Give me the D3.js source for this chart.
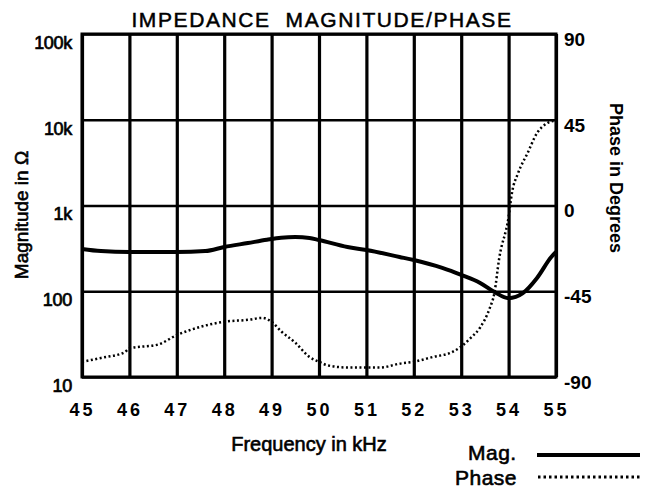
<!DOCTYPE html>
<html>
<head>
<meta charset="utf-8">
<script src="https://cdn.jsdelivr.net/npm/d3@7"></script>
<style>
  body { margin: 0; background: #fff; }
  text { font-family: "Liberation Sans", Arial, sans-serif; fill: #000; }
</style>
</head>
<body>
<div id="chart"></div>
<script>
// frequency sweep, kHz
var freqTicks = [45, 46, 47, 48, 49, 50, 51, 52, 53, 54, 55];
var magTicks = [10, 100, 1000, 10000, 100000];
var magLabels = ["10", "100", "1k", "10k", "100k"];
var phaseTicks = [-90, -45, 0, 45, 90];

// magnitude curve (ohm)
var magFreq = [45.0, 45.4, 46.0, 47.0, 47.6, 48.0, 48.5, 48.9, 49.2, 49.5, 49.8, 50.0, 50.6, 51.0, 51.7, 52.0, 52.6, 53.0, 53.4, 53.7, 54.0, 54.3, 54.6, 54.9, 55.0];
var magVals = [311, 294, 287, 287, 294, 328, 365, 398, 420, 428, 418, 396, 328, 303, 251, 231, 187, 155, 125, 98, 83, 95, 143, 251, 287];

// phase curve (degrees)
var phaseFreq = [45.0, 45.4, 45.9, 46.0, 46.6, 47.0, 47.6, 48.0, 48.5, 48.8, 49.0, 49.2, 49.5, 49.8, 50.0, 50.2, 50.6, 51.0, 51.3, 51.7, 52.0, 52.4, 52.8, 53.0, 53.2, 53.4, 53.6, 53.7, 53.8, 54.0, 54.07, 54.2, 54.4, 54.6, 54.8, 54.95, 55.0];
var phaseVals = [-82, -80, -77, -75, -73, -68, -63, -61, -60, -59, -61, -66, -72, -79.5, -82, -84, -85, -85, -85, -83, -82, -79.5, -77, -74, -69.5, -64, -54, -46, -28, -6, 6.5, 17, 27.5, 38, 43, 44.3, 44.3];

var margin = {top: 34, right: 98, bottom: 113, left: 82},
    width = 654 - margin.left - margin.right,
    height = 490 - margin.top - margin.bottom;

var svg = d3.select("#chart").append("svg")
    .attr("width", 654)
    .attr("height", 490);

var g = svg.append("g")
    .attr("transform", "translate(" + margin.left + "," + margin.top + ")");

var x = d3.scaleLinear().domain([45, 55]).range([0, width]);
var yMag = d3.scaleLog().domain([10, 100000]).range([height, 0]);
var yPhase = d3.scaleLinear().domain([-90, 90]).range([height, 0]);

// grid lines
g.append("g")
    .attr("class", "grid")
    .attr("transform", "translate(0," + height + ")")
    .call(d3.axisBottom(x).tickValues(freqTicks).tickSize(-height).tickFormat(""))
    .call(function(s) { s.select(".domain").remove(); })
    .selectAll("line")
    .attr("stroke", "#000")
    .attr("stroke-width", 3.2);

g.append("g")
    .attr("class", "grid")
    .call(d3.axisLeft(yMag).tickValues(magTicks).tickSize(-width).tickFormat(""))
    .call(function(s) { s.select(".domain").remove(); })
    .selectAll("line")
    .attr("stroke", "#000")
    .attr("stroke-width", 2.6);

g.append("rect")
    .attr("width", width)
    .attr("height", height)
    .attr("fill", "none")
    .attr("stroke", "#000")
    .attr("stroke-width", 3);

// tick labels
var leftAxis = g.append("g")
    .call(d3.axisLeft(yMag).tickValues(magTicks).tickSize(0).tickPadding(10)
      .tickFormat(function(d, i) { return magLabels[i]; }));
leftAxis.select(".domain").remove();
leftAxis.selectAll("text")
    .attr("dy", "0.8em")
    .style("font-size", "18px")
    .style("letter-spacing", "-0.3px")
    .attr("stroke", "#000").attr("stroke-width", 0.7);

var rightAxis = g.append("g")
    .attr("transform", "translate(" + width + ",0)")
    .call(d3.axisRight(yPhase).tickValues(phaseTicks).tickSize(0).tickPadding(8)
      .tickFormat(String));
rightAxis.select(".domain").remove();
rightAxis.selectAll("text")
    .attr("dy", "0.6em")
    .style("font-size", "19px")
    .style("font-weight", "bold");

var bottomAxis = g.append("g")
    .attr("transform", "translate(0," + height + ")")
    .call(d3.axisBottom(x).tickValues(freqTicks).tickSize(0).tickPadding(26));
bottomAxis.select(".domain").remove();
bottomAxis.selectAll("text")
    .style("font-size", "18px")
    .style("font-weight", "bold")
    .style("letter-spacing", "3px");

// curves
var magLine = d3.line()
    .x(function(d) { return x(d[0]); })
    .y(function(d) { return yMag(d[1]); })
    .curve(d3.curveMonotoneX);

var phaseLine = d3.line()
    .x(function(d) { return x(d[0]); })
    .y(function(d) { return yPhase(d[1]); })
    .curve(d3.curveMonotoneX);

g.append("path")
    .datum(d3.zip(phaseFreq, phaseVals))
    .attr("d", phaseLine)
    .attr("fill", "none")
    .attr("stroke", "#000")
    .attr("stroke-width", 2.5)
    .attr("stroke-dasharray", "2,2.5");

g.append("path")
    .datum(d3.zip(magFreq, magVals))
    .attr("d", magLine)
    .attr("fill", "none")
    .attr("stroke", "#000")
    .attr("stroke-width", 4);

// titles
svg.append("text")
    .attr("x", 322)
    .attr("y", 27)
    .attr("text-anchor", "middle")
    .style("font-size", "21px")
    .style("letter-spacing", "1.6px")
    .attr("stroke", "#000").attr("stroke-width", 0.5)
    .attr("xml:space", "preserve")
    .text("IMPEDANCE  MAGNITUDE/PHASE");

svg.append("text")
    .attr("transform", "translate(28,215) rotate(-90)")
    .attr("text-anchor", "middle")
    .style("font-size", "19px")
    .attr("stroke", "#000").attr("stroke-width", 0.6)
    .text("Magnitude in \u03A9");

svg.append("text")
    .attr("transform", "translate(610,178) rotate(90)")
    .attr("text-anchor", "middle")
    .style("font-size", "18px")
    .style("font-weight", "bold")
    .text("Phase in Degrees");

svg.append("text")
    .attr("x", 309)
    .attr("y", 451)
    .attr("text-anchor", "middle")
    .style("font-size", "20px")
    .attr("stroke", "#000").attr("stroke-width", 0.6)
    .text("Frequency in kHz");

// legend
svg.append("text")
    .attr("x", 468)
    .attr("y", 460)
    .style("font-size", "21px")
    .style("letter-spacing", "0.5px")
    .attr("stroke", "#000").attr("stroke-width", 0.6)
    .text("Mag.");

svg.append("text")
    .attr("x", 455)
    .attr("y", 485)
    .style("font-size", "21px")
    .style("letter-spacing", "0.5px")
    .attr("stroke", "#000").attr("stroke-width", 0.6)
    .text("Phase");

svg.append("line")
    .attr("x1", 537).attr("x2", 640)
    .attr("y1", 455).attr("y2", 455)
    .attr("stroke", "#000")
    .attr("stroke-width", 4);

svg.append("line")
    .attr("x1", 538).attr("x2", 640)
    .attr("y1", 477).attr("y2", 477)
    .attr("stroke", "#000")
    .attr("stroke-width", 3)
    .attr("stroke-dasharray", "2.5,3");
</script>
</body>
</html>
